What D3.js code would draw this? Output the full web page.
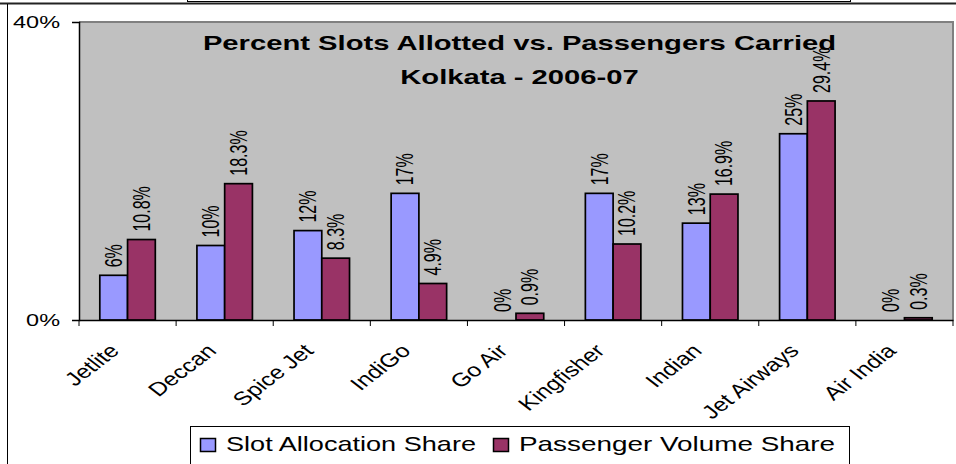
<!DOCTYPE html>
<html>
<head>
<meta charset="utf-8">
<script src="https://cdn.jsdelivr.net/npm/d3@7"></script>
<style>
  body { margin: 0; background: #fff; }
  svg { display: block; font-family: "Liberation Sans", Arial, sans-serif; }
</style>
</head>
<body>
<div id="chart"></div>
<script>
var airlines = ['Jetlite', 'Deccan', 'Spice Jet', 'IndiGo', 'Go Air', 'Kingfisher', 'Indian', 'Jet Airways', 'Air India']
var slotShare = [6, 10, 12, 17, 0, 17, 13, 25, 0]
var slotLabels = ['6%', '10%', '12%', '17%', '0%', '17%', '13%', '25%', '0%']
var paxShare = [10.8, 18.3, 8.3, 4.9, 0.9, 10.2, 16.9, 29.4, 0.3]
var paxLabels = ['10.8%', '18.3%', '8.3%', '4.9%', '0.9%', '10.2%', '16.9%', '29.4%', '0.3%']
var seriesNames = ['Slot Allocation Share', 'Passenger Volume Share']
var yTicks = [0, 40]
var titleLines = ['Percent Slots Allotted vs. Passengers Carried', 'Kolkata - 2006-07']

var colors = ['#9999ff', '#993366']

var W = 956, H = 464
var plot = {left: 79, right: 953, top: 22, bottom: 320}

var svg = d3.select('#chart').append('svg').attr('width', W).attr('height', H)

// frame bits from the page the chart was cut out of
svg.append('rect').attr('x', 187.5).attr('y', -10).attr('width', 663).attr('height', 11.5)
  .attr('fill', 'none').attr('stroke', '#000')
svg.append('line').attr('x1', 0).attr('x2', W).attr('y1', 3.5).attr('y2', 3.5)
  .attr('stroke', '#222').attr('stroke-width', 2)
svg.append('line').attr('x1', 7.5).attr('x2', 7.5).attr('y1', 4).attr('y2', H)
  .attr('stroke', '#000')

var x = d3.scaleBand().domain(airlines).range([plot.left, plot.right])
var xs = d3.scaleBand().domain([0, 1]).range([0, x.bandwidth()]).paddingOuter(0.75)
var y = d3.scaleLinear().domain([0, 40]).range([plot.bottom, plot.top])

// plot area
svg.append('rect')
  .attr('x', plot.left).attr('y', plot.top)
  .attr('width', plot.right - plot.left).attr('height', plot.bottom - plot.top)
  .attr('fill', '#c0c0c0')
svg.append('path')
  .attr('d', 'M' + plot.left + ',' + plot.top + 'H' + plot.right + 'V' + plot.bottom)
  .attr('fill', 'none').attr('stroke', '#808080').attr('stroke-width', 2)

// text that looks stretched sideways, like the original picture
function put(sel, px, py, sx, rot) {
  return sel.attr('transform', 'translate(' + px + ',' + py + ') scale(' + sx + ',1)' + (rot ? ' rotate(' + rot + ')' : ''))
}

// title
titleLines.forEach(function(t, i) {
  put(svg.append('text'), 519.5, i ? 84 : 50, 1.46)
    .attr('text-anchor', 'middle').attr('font-weight', 'bold').attr('font-size', 20)
    .text(t)
})

// bars
var series = [slotShare, paxShare]
var labels = [slotLabels, paxLabels]
series.forEach(function(vals, si) {
  var g = svg.append('g')
  g.selectAll('rect').data(vals).join('rect')
    .attr('x', function(d, i) { return x(airlines[i]) + xs(si) })
    .attr('y', function(d) { return y(d) })
    .attr('width', xs.bandwidth())
    .attr('height', function(d) { return y(0) - y(d) })
    .attr('fill', colors[si])
    .attr('stroke', '#000').attr('stroke-width', 1.7)

  g.selectAll('text').data(vals).join('text')
    .each(function(d, i) {
      put(d3.select(this), x(airlines[i]) + xs(si) + xs.bandwidth() / 2, y(d) - 8, 1.5, -90)
    })
    .attr('dy', '0.35em')
    .attr('font-size', 16)
    .text(function(d, i) { return labels[si][i] })
})

// y axis
var yAxis = d3.axisLeft(y).tickValues(yTicks).tickSize(7).tickFormat(function(d) { return '' })
var yg = svg.append('g').attr('transform', 'translate(' + plot.left + ',0)').call(yAxis)
yg.select('.domain').attr('stroke', '#000').attr('stroke-width', 1.5)
yg.selectAll('.tick line').attr('stroke', '#000')
yTicks.forEach(function(t) {
  put(svg.append('text'), 60, y(t), 1.38)
    .attr('text-anchor', 'end').attr('dy', '0.35em').attr('font-size', 17)
    .text(t + '%')
})

// x axis
var xAxis = d3.axisBottom(x).tickSize(0).tickFormat('')
var xg = svg.append('g').attr('transform', 'translate(0,' + plot.bottom + ')').call(xAxis)
xg.select('.domain').attr('stroke', '#000').attr('stroke-width', 1.5)
xg.selectAll('.tick').remove()
svg.append('g').selectAll('line').data(airlines.concat(['end'])).join('line')
  .attr('x1', function(d, i) { return plot.left + i * x.step() })
  .attr('x2', function(d, i) { return plot.left + i * x.step() })
  .attr('y1', plot.bottom).attr('y2', plot.bottom + 6)
  .attr('stroke', '#000')

svg.append('g').selectAll('text').data(airlines).join('text')
  .each(function(d) {
    put(d3.select(this), x(d) + x.bandwidth() / 2 - 7, 352, 1.3, -45)
  })
  .attr('text-anchor', 'end')
  .attr('font-size', 19)
  .text(function(d) { return d })

// legend
var leg = svg.append('g')
leg.append('rect').attr('x', 190.5).attr('y', 426.5).attr('width', 659).attr('height', 60)
  .attr('fill', '#fff').attr('stroke', '#000')
var legX = [200, 493]
var legW = [250, 316]
seriesNames.forEach(function(name, i) {
  leg.append('rect').attr('x', legX[i] + 0.5).attr('y', 438.5).attr('width', 15).attr('height', 13)
    .attr('fill', colors[i]).attr('stroke', '#000').attr('stroke-width', 1.5)
  leg.append('text').attr('x', legX[i] + 26).attr('y', 451)
    .attr('font-size', 21)
    .attr('textLength', legW[i]).attr('lengthAdjust', 'spacingAndGlyphs')
    .text(name)
})
</script>
</body>
</html>
